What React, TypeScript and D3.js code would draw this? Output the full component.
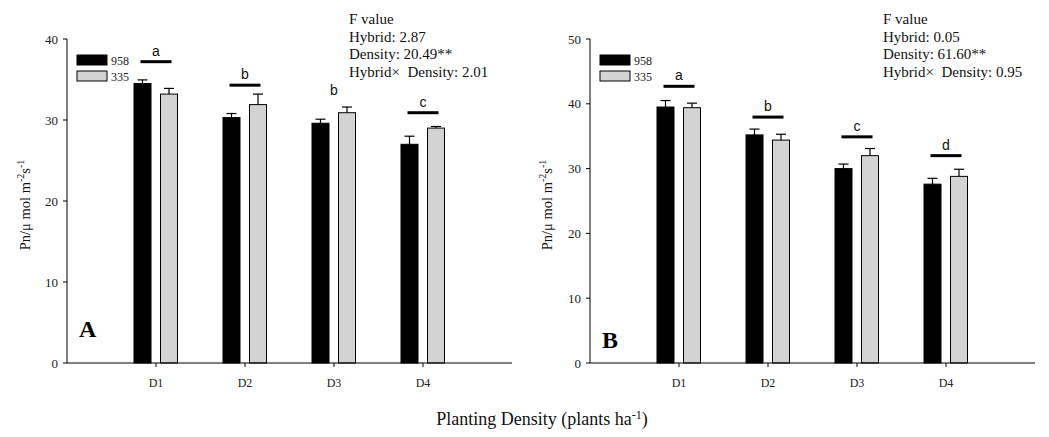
import React from "react";
import * as d3 from "d3";

const densities = ["D1", "D2", "D3", "D4"];
const hybrids = ["958", "335"];

// panel A
const meanA958 = [34.5, 30.3, 29.6, 27.0];
const errA958 = [0.45, 0.5, 0.5, 1.0];
const meanA335 = [33.2, 31.9, 30.9, 29.0];
const errA335 = [0.7, 1.3, 0.7, 0.2];
const lettersA = ["a", "b", "b", "c"];
const letterLevelA = [37.2, 34.3, 33.7, 30.9];
const letterLineA = [true, true, false, true];
const fTextA = ["F value", "Hybrid: 2.87", "Density: 20.49**", "Hybrid×\u00a0 Density: 2.01"];
const ticksA = [0, 10, 20, 30, 40];

// panel B
const meanB958 = [39.5, 35.2, 30.0, 27.6];
const errB958 = [1.0, 0.9, 0.7, 0.9];
const meanB335 = [39.4, 34.4, 32.0, 28.8];
const errB335 = [0.7, 0.9, 1.1, 1.1];
const lettersB = ["a", "b", "c", "d"];
const letterLevelB = [42.7, 37.95, 34.9, 32.0];
const letterLineB = [true, true, true, true];
const fTextB = ["F value", "Hybrid: 0.05", "Density: 61.60**", "Hybrid×\u00a0 Density: 0.95"];
const ticksB = [0, 10, 20, 30, 40, 50];

const SERIF = "'Liberation Serif', 'Times New Roman', serif";
const SANS = "'Liberation Sans', Arial, sans-serif";

type PanelProps = {
  x0: number;
  yMax: number;
  ticks: number[];
  m958: number[];
  e958: number[];
  m335: number[];
  e335: number[];
  letters: string[];
  letterLevel: number[];
  letterLine: boolean[];
  fText: string[];
  fX: number;
  tag: string;
  tagY: number;
  labelX: number;
};

function Panel(p: PanelProps) {
  const top = 39;
  const bottom = 363;
  const step = 89;
  const x = d3.scaleLinear().domain([0, 5]).range([p.x0, p.x0 + step * 5]);
  const y = d3.scaleLinear().domain([0, p.yMax]).range([bottom, top]);
  const bw = 17;
  const series = [
    { name: hybrids[0], mean: p.m958, err: p.e958, fill: "#000", off: -13.5 },
    { name: hybrids[1], mean: p.m335, err: p.e335, fill: "#d3d3d3", off: 13 },
  ];
  return (
    <g>
      {series.map((s) =>
        densities.map((d, i) => {
          const cx = x(i + 1) + s.off;
          const yt = y(s.mean[i]);
          const ye = y(s.mean[i] + s.err[i]);
          return (
            <g key={s.name + d}>
              <line x1={cx} x2={cx} y1={yt} y2={ye} stroke="#000" strokeWidth={1.2} />
              <line x1={cx - 5} x2={cx + 5} y1={ye} y2={ye} stroke="#000" strokeWidth={1.2} />
              <rect x={cx - bw / 2} y={yt} width={bw} height={bottom - yt} fill={s.fill} stroke="#000" strokeWidth={1} />
            </g>
          );
        })
      )}
      {/* axes */}
      <line x1={p.x0} x2={p.x0} y1={top} y2={bottom} stroke="#000" strokeWidth={1} />
      <line x1={p.x0} x2={x(5)} y1={bottom} y2={bottom} stroke="#000" strokeWidth={1.2} />
      {p.ticks.map((t) => (
        <g key={t}>
          <line x1={p.x0 - 4} x2={p.x0} y1={y(t)} y2={y(t)} stroke="#000" />
          <text x={p.x0 - 9} y={y(t) + 4.5} textAnchor="end" fontFamily={SERIF} fontSize={13} fill="#222">
            {t}
          </text>
        </g>
      ))}
      {densities.map((d, i) => (
        <g key={d}>
          <line x1={x(i + 1)} x2={x(i + 1)} y1={bottom} y2={bottom + 4} stroke="#000" />
          <text x={x(i + 1)} y={bottom + 24} textAnchor="middle" fontFamily={SERIF} fontSize={12} fill="#222">
            {d}
          </text>
        </g>
      ))}
      {/* significance letters */}
      {densities.map((d, i) => {
        const cx = x(i + 1);
        const ly = y(p.letterLevel[i]);
        return (
          <g key={"l" + d}>
            {p.letterLine[i] && (
              <line x1={cx - 15.5} x2={cx + 15.5} y1={ly} y2={ly} stroke="#000" strokeWidth={3} />
            )}
            <text x={cx} y={p.letterLine[i] ? ly - 6 : ly + 5} textAnchor="middle" fontFamily={SANS} fontSize={14} fill="#111">
              {p.letters[i]}
            </text>
          </g>
        );
      })}
      {/* legend */}
      {series.map((s, i) => (
        <g key={"lg" + s.name}>
          <rect x={p.x0 + 10} y={55 + i * 16} width={30} height={10} fill={s.fill} stroke="#000" strokeWidth={1} />
          <text x={p.x0 + 44} y={64.5 + i * 16} fontFamily={SERIF} fontSize={12} fill="#222">
            {s.name}
          </text>
        </g>
      ))}
      {/* F values */}
      {p.fText.map((t, i) => (
        <text key={t} x={p.fX} y={24 + i * 17.5} fontFamily={SERIF} fontSize={15} fill="#111">
          {t}
        </text>
      ))}
      <text x={p.x0 + 12} y={p.tagY} fontFamily={SERIF} fontSize={24} fontWeight="bold">
        {p.tag}
      </text>
      <text
        transform={`translate(${p.labelX},${(top + bottom) / 2 + 4}) rotate(-90)`}
        textAnchor="middle"
        fontFamily={SERIF}
        fontSize={14.5}
        fill="#111"
      >
        Pn/μ mol m<tspan dy={-6} fontSize={10}>-2</tspan>
        <tspan dy={6}>s</tspan>
        <tspan dy={-6} fontSize={10}>-1</tspan>
      </text>
    </g>
  );
}

export default function App() {
  return (
    <svg width={1049} height={437} style={{ position: "absolute", left: 0, top: 0, background: "#fff" }}>
      <rect width={1049} height={437} fill="#fff" />
      <Panel
        x0={67}
        yMax={40}
        ticks={ticksA}
        m958={meanA958}
        e958={errA958}
        m335={meanA335}
        e335={errA335}
        letters={lettersA}
        letterLevel={letterLevelA}
        letterLine={letterLineA}
        fText={fTextA}
        fX={349}
        tag="A"
        tagY={337}
        labelX={30}
      />
      <Panel
        x0={590}
        yMax={50}
        ticks={ticksB}
        m958={meanB958}
        e958={errB958}
        m335={meanB335}
        e335={errB335}
        letters={lettersB}
        letterLevel={letterLevelB}
        letterLine={letterLineB}
        fText={fTextB}
        fX={883}
        tag="B"
        tagY={348}
        labelX={552}
      />
      <text x={542} y={425} textAnchor="middle" fontFamily={SERIF} fontSize={18} fill="#111">
        Planting Density (plants ha<tspan dy={-6} fontSize={12}>-1</tspan>
        <tspan dy={6}>)</tspan>
      </text>
    </svg>
  );
}
